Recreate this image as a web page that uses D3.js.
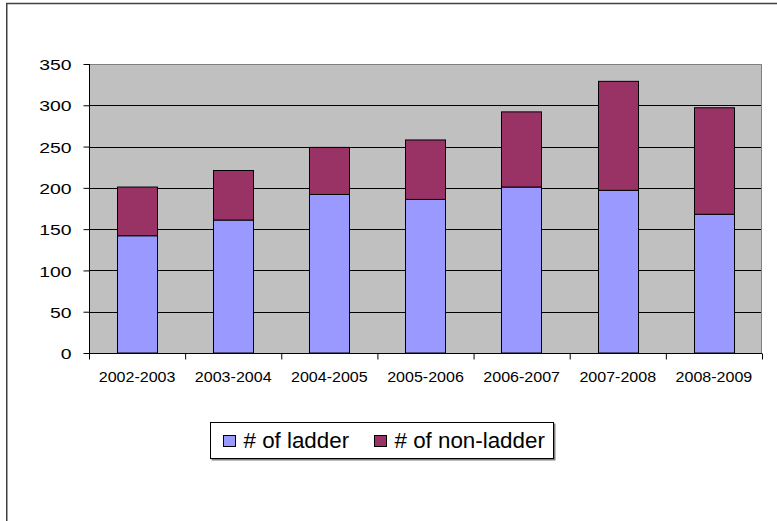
<!DOCTYPE html>
<html>
<head>
<meta charset="utf-8">
<script src="https://cdn.jsdelivr.net/npm/d3@7"></script>
<style>
  html, body { margin: 0; padding: 0; background: #fff; }
  svg { display: block; font-family: "Liberation Sans", Arial, sans-serif; }
</style>
</head>
<body>
<svg id="chart" width="777" height="521"></svg>
<script>
// Season categories and the two stacked series
const seasons = ["2002-2003", "2003-2004", "2004-2005", "2005-2006", "2006-2007", "2007-2008", "2008-2009"];
const ladderCounts = [142, 161, 192, 186, 201, 197, 168];
const nonLadderCounts = [59, 60, 57, 72, 91, 132, 129];
const seriesNames = ["# of ladder", "# of non-ladder"];
const seriesColors = ["#9999FF", "#993366"];
const yTicks = [0, 50, 100, 150, 200, 250, 300, 350];

const svg = d3.select("#chart");
const W = 777, H = 521;
const plot = { left: 89, right: 762, top: 64, bottom: 353 };

// Outer chart frame (runs off the right and bottom edges)
svg.append("rect")
  .attr("x", 6.75).attr("y", 3.5)
  .attr("width", W + 20).attr("height", H + 20)
  .attr("fill", "#fff")
  .attr("stroke", "#404040").attr("stroke-width", 1.5);

const y = d3.scaleLinear().domain([0, 350]).range([plot.bottom, plot.top]);
const x = d3.scaleBand().domain(seasons)
  .range([plot.left, plot.right])
  .paddingInner(0.58).paddingOuter(0.29);
const xEdges = d3.scaleLinear().domain([0, seasons.length]).range([plot.left, plot.right]);

// Plot area background
svg.append("rect")
  .attr("x", plot.left).attr("y", plot.top)
  .attr("width", plot.right - plot.left).attr("height", plot.bottom - plot.top)
  .attr("fill", "#C0C0C0");

// Horizontal gridlines
svg.append("g")
  .selectAll("line")
  .data(yTicks.filter(d => d > 0 && d < 350))
  .join("line")
  .attr("x1", plot.left).attr("x2", plot.right)
  .attr("y1", d => Math.round(y(d)) + 0.5).attr("y2", d => Math.round(y(d)) + 0.5)
  .attr("stroke", "#000").attr("stroke-width", 1);

// Plot area border (top and right)
svg.append("path")
  .attr("d", `M${plot.left},${plot.top + 0.5}H${plot.right - 0.5}V${plot.bottom}`)
  .attr("fill", "none").attr("stroke", "#808080").attr("stroke-width", 1);

// Stacked bars
const rows = seasons.map((s, i) => ({ season: s, ladder: ladderCounts[i], nonladder: nonLadderCounts[i] }));
const stack = d3.stack().keys(["ladder", "nonladder"])(rows);

svg.append("g")
  .selectAll("g")
  .data(stack)
  .join("g")
  .attr("fill", (d, i) => seriesColors[i])
  .selectAll("rect")
  .data(d => d)
  .join("rect")
  .attr("x", d => Math.round(x(d.data.season)) + 0.5)
  .attr("y", d => y(d[1]))
  .attr("width", Math.round(x.bandwidth()))
  .attr("height", d => y(d[0]) - y(d[1]))
  .attr("stroke", "#000").attr("stroke-width", 1);

// Horizontal stretch applied to the text glyphs
function stretch(sel, s) {
  sel.each(function () {
    const t = d3.select(this);
    const ox = +t.attr("x") || 0;
    t.attr("x", ox / s).attr("transform", `scale(${s},1)`);
  });
}

// Y axis
const yAxis = svg.append("g")
  .attr("transform", `translate(${plot.left + 0.5},0)`)
  .call(d3.axisLeft(y).tickValues(yTicks).tickSize(6).tickPadding(12).tickFormat(d3.format("d")));
yAxis.select(".domain").attr("stroke", "#000").attr("d", `M0,${plot.top}V${plot.bottom}`);
yAxis.selectAll(".tick line").attr("stroke", "#000");
yAxis.selectAll(".tick text")
  .attr("font-size", 15.5).attr("fill", "#000")
  .attr("font-family", "Liberation Sans, Arial, sans-serif")
  .attr("dy", "0.36em");
stretch(yAxis.selectAll(".tick text"), 1.25);

// X axis with ticks at category boundaries
const xAxis = svg.append("g")
  .attr("transform", `translate(0,${plot.bottom + 0.5})`)
  .call(d3.axisBottom(xEdges).tickValues(d3.range(seasons.length + 1)).tickSize(6).tickFormat(""));
xAxis.select(".domain").attr("stroke", "#000").attr("d", `M${plot.left},0H${plot.right}`);
xAxis.selectAll(".tick line").attr("stroke", "#000");

// Category labels at bar centres
const xLabels = svg.append("g")
  .selectAll("text")
  .data(seasons)
  .join("text")
  .attr("x", d => x(d) + x.bandwidth() / 2)
  .attr("y", 382.5)
  .attr("text-anchor", "middle")
  .attr("font-size", 14.2)
  .attr("fill", "#000")
  .text(d => d);
stretch(xLabels, 1.13);

// Legend
const legend = svg.append("g");
legend.append("rect")
  .attr("x", 211.5).attr("y", 423.5).attr("width", 344).attr("height", 37)
  .attr("fill", "#808080");
legend.append("rect")
  .attr("x", 210.5).attr("y", 422.5).attr("width", 343).attr("height", 36)
  .attr("fill", "#fff").attr("stroke", "#000").attr("stroke-width", 1);

const legendItemX = [223.5, 374.5];
const items = legend.selectAll("g.item")
  .data(seriesNames)
  .join("g").attr("class", "item");
items.append("rect")
  .attr("x", (d, i) => legendItemX[i]).attr("y", 435.5)
  .attr("width", 12).attr("height", 11)
  .attr("fill", (d, i) => seriesColors[i])
  .attr("stroke", "#000").attr("stroke-width", 1);
const legendText = items.append("text")
  .attr("x", (d, i) => legendItemX[i] + 20)
  .attr("y", 448.5)
  .attr("font-size", 21.5)
  .attr("fill", "#000")
  .text(d => d);
stretch(legendText, 1.04);
</script>
</body>
</html>
